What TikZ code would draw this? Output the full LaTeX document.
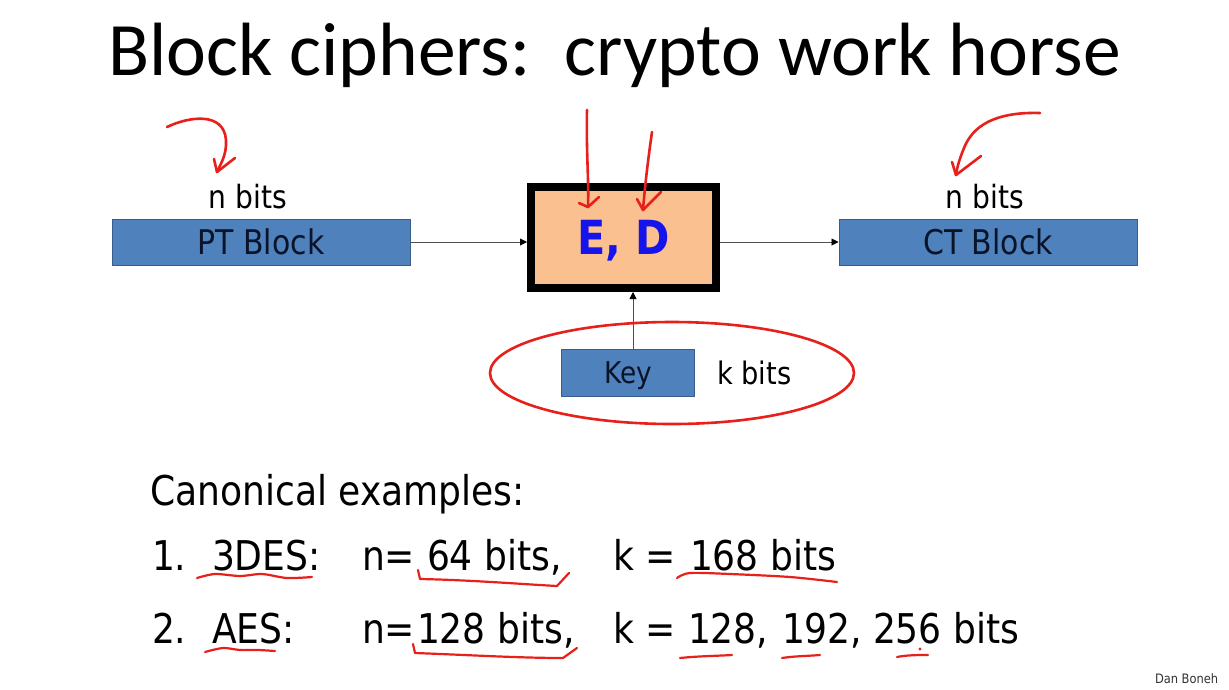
\documentclass[tikz,border=0pt]{standalone}
\usepackage{fontspec}
\setmainfont{DejaVu Sans}[FakeStretch=0.88]
\newfontfamily\titlefont{Carlito}
\usetikzlibrary{arrows.meta}
\definecolor{blockblue}{RGB}{79,129,189}
\definecolor{blockedge}{RGB}{56,93,138}
\definecolor{peach}{RGB}{250,192,143}
\definecolor{edblue}{RGB}{20,20,235}
\definecolor{pen}{RGB}{232,32,28}
\definecolor{navy}{RGB}{10,20,40}
\definecolor{conngray}{RGB}{80,80,80}
\newcommand\szbody{\fontsize{41}{49}\selectfont}
\newcommand\szsmall{\fontsize{32}{38}\selectfont}
\begin{document}
\frenchspacing
\begin{tikzpicture}[x=1pt,y=-1pt,
  txt/.style={inner sep=0pt, outer sep=0pt},
  blk/.style={draw=blockedge, fill=blockblue, line width=1pt, minimum width=298pt, minimum height=46pt, inner sep=0pt, text=navy, font=\fontsize{34}{40}\selectfont, text depth=0pt},
  conn/.style={draw=conngray, line width=0.9pt, -{Triangle[length=7pt,width=7pt,color=black]}},
  ink/.style={draw=pen, line width=2.6pt, line cap=round, line join=round}]
\useasboundingbox[fill=white] (0,0) rectangle (1229,689);

% title
\node[txt, anchor=base west, font=\titlefont\fontsize{75.5}{80}\selectfont] (title) at (108,75) {Block ciphers:~~crypto work horse};

% blocks
\node[blk] (PT) at (261,242) {PT Block};
\node[blk] (CT) at (988,242) {CT Block};
\node[draw=black, fill=peach, line width=8pt, minimum width=185pt, minimum height=101pt, inner sep=0pt,
      text=edblue, font=\bfseries\fontsize{47}{52}\selectfont, text depth=0pt] (ED) at (623.5,237.5) {E, D};
\node[blk, minimum width=133pt, minimum height=47pt, font=\fontsize{30}{36}\selectfont] (Key) at (628,373) {Key};

\node[txt, anchor=base, font=\szsmall] (nL) at (248,208) {n bits};
\node[txt, anchor=base, font=\szsmall] (nR) at (985,208) {n bits};
\node[txt, anchor=base west, font=\fontsize{31}{36}\selectfont] (kb) at (717,384) {k bits};

% connectors
\draw[conn] (PT.east) -- (PT.east -| ED.west);
\draw[conn] (CT.west -| ED.east) -- (CT.west);
\coordinate (kx) at (633,0);
\draw[conn] (Key.north -| kx) -- (ED.south -| kx);

% bottom text
\node[txt, anchor=base west, font=\szbody] (canon) at (150,505) {Canonical examples:};
\node[txt, anchor=base west, font=\szbody] (n1) at (152,570) {1.};
\node[txt, anchor=base west, font=\szbody] (des) at (212,570) {3DES:};
\node[txt, anchor=base west, font=\szbody] (n1eq) at (362,570) {n=};
\node[txt, anchor=base west, font=\szbody] (n1v) at (427,570) {64 bits,};
\node[txt, anchor=base west, font=\szbody] (k1eq) at (613,570) {k =};
\node[txt, anchor=base west, font=\szbody] (k1v) at (690,570) {168 bits};

\node[txt, anchor=base west, font=\szbody] (n2) at (152,643) {2.};
\node[txt, anchor=base west, font=\szbody] (aes) at (212,643) {AES:};
\node[txt, anchor=base west, font=\szbody] (n2eq) at (362,643) {n=};
\node[txt, anchor=base west, font=\szbody] (n2v) at (417,643) {128 bits,};
\node[txt, anchor=base west, font=\szbody] (k2eq) at (613,643) {k =};
\node[txt, anchor=base west, font=\szbody] (k2a) at (688,643) {128,};
\node[txt, anchor=base west, font=\szbody] (k2b) at (782,643) {192,};
\node[txt, anchor=base west, font=\szbody] (k2c) at (873,643) {256 bits};

\node[txt, anchor=base west, text=black!80, font=\fontsize{13}{15}\selectfont] (author) at (1155,683) {Dan Boneh};

% red pen annotations
\draw[ink] (167,127) .. controls (190,116) and (224,112) .. (226,140) .. controls (227,155) and (220,165) .. (217,172);
\draw[ink] (214,159) -- (217,172) -- (235,158);
\draw[ink] (587,110) .. controls (586,150) and (589,180) .. (588,207);
\draw[ink] (579,203) -- (588,207) -- (599,197);
\draw[ink] (652,132) .. controls (648,160) and (645,185) .. (643,210);
\draw[ink] (637,199) -- (643,210) -- (661,192);
\draw[ink] (1040,113) .. controls (1005,112) and (975,120) .. (964,148) .. controls (959,160) and (957,168) .. (956,175);
\draw[ink] (952,162) -- (956,175) -- (981,156);
\draw[ink] (672,373) ellipse [x radius=182, y radius=51];

\draw[ink, line width=2.2pt] plot[smooth] coordinates {(197,578) (215,574) (240,576) (262,574) (287,578) (312,577)};
\draw[ink, line width=2.2pt] (418,570) -- (420,579) .. controls (470,580) and (520,584) .. (557,586) -- (569,573);
\draw[ink, line width=2.2pt] plot[smooth] coordinates {(205,652) (223,648) (240,650) (258,650) (275,651)};
\draw[ink, line width=2.2pt] (413,644) -- (415,653) .. controls (470,655) and (520,658) .. (563,658) -- (577,648);
\draw[ink, line width=2.2pt] plot[smooth] coordinates {(677,578) (690,573) (730,574) (790,577) (837,582)};
\draw[ink, line width=2.2pt] (680,658) .. controls (700,656) and (715,656) .. (732,655);
\draw[ink, line width=2.2pt] (782,658) .. controls (795,656) and (808,656) .. (820,655);
\draw[ink, line width=2.2pt] (897,657) .. controls (907,655) and (918,655) .. (928,655);
\fill[pen] (920,649) circle (1.6);
\end{tikzpicture}
\end{document}
